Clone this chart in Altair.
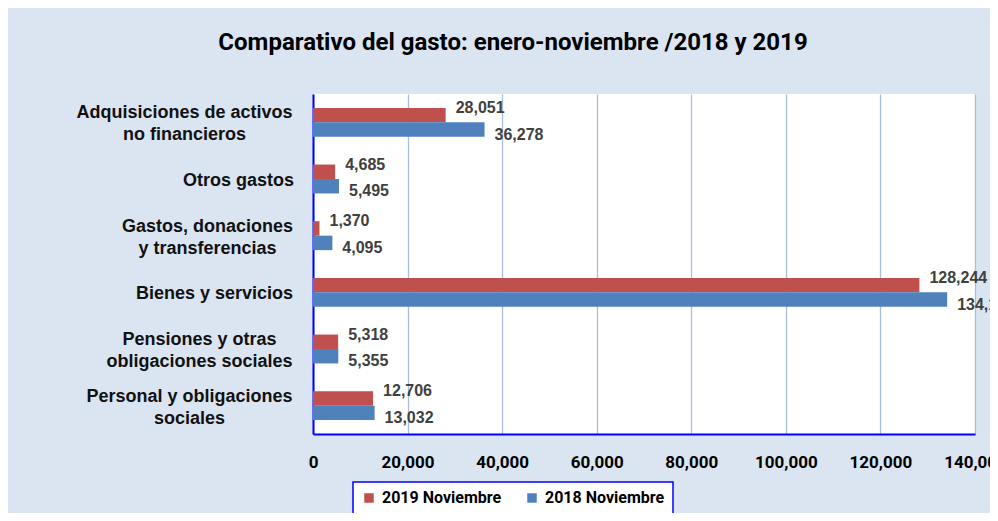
import altair as alt
import pandas as pd

categories = [
    "Adquisiciones de activos|no financieros",
    "Otros gastos",
    "Gastos, donaciones|y transferencias",
    "Bienes y servicios",
    "Pensiones y otras|obligaciones sociales",
    "Personal y obligaciones|sociales",
]
series = ["2019 Noviembre", "2018 Noviembre"]
values_2019 = [28051, 4685, 1370, 128244, 5318, 12706]
values_2018 = [36278, 5495, 4095, 134115, 5355, 13032]
x_ticks = [0, 20000, 40000, 60000, 80000, 100000, 120000, 140000]
colors = ["#C0504D", "#4F81BD"]

rows = []
for c, v in zip(categories, values_2019):
    rows.append({"cat": c, "serie": series[0], "valor": v})
for c, v in zip(categories, values_2018):
    rows.append({"cat": c, "serie": series[1], "valor": v})
df = pd.DataFrame(rows)

NARROW = "Liberation Sans Narrow, Roboto, sans-serif"
ARIAL = "Liberation Sans, Arial, sans-serif"

# per-label distance from axis to the centre of the (centre-aligned) label block
label_pad = [129, 75, 106, 99, 114, 124]
pad_cond = [
    {"test": f"datum.value === {c!r}", "value": p}
    for c, p in zip(categories, label_pad)
]

y_enc = alt.Y(
    "cat:N",
    sort=categories,
    scale=alt.Scale(paddingInner=0.49, paddingOuter=0.245),
    axis=alt.Axis(
        title=None,
        labelExpr="split(datum.label, '|')",
        labelFont=ARIAL,
        labelFontSize=18,
        labelFontWeight="bold",
        labelColor="#111111",
        labelAlign="center",
        labelBaseline="middle",
        labelLineHeight=22,
        labelPadding={"condition": pad_cond, "value": 100},
        labelOffset={
            "condition": {"test": "indexof(datum.value, '|') >= 0", "value": -9},
            "value": 2,
        },
        labelLimit=400,
        ticks=False,
        domainColor="#0000FF",
        domainWidth=2,
        grid=False,
    ),
)
x_enc = alt.X(
    "valor:Q",
    scale=alt.Scale(domain=[0, 140000], nice=False),
    axis=alt.Axis(
        title=None,
        values=x_ticks,
        format=",.0f",
        labelFont=NARROW,
        labelFontSize=17,
        labelFontWeight="bold",
        labelColor="#000000",
        labelPadding=20,
        labelFlush=False,
        ticks=False,
        domainColor="#0000FF",
        domainWidth=2,
        grid=True,
        gridColor="#A7BFDE",
        gridWidth=1.3,
    ),
)
yoff = alt.YOffset("serie:N", sort=series)

bars = alt.Chart(df).mark_bar().encode(
    x=x_enc,
    y=y_enc,
    yOffset=yoff,
    color=alt.Color(
        "serie:N",
        sort=series,
        scale=alt.Scale(domain=series, range=colors),
        legend=alt.Legend(
            title=None,
            orient="none",
            legendX=40,
            legendY=388,
            direction="horizontal",
            fillColor="white",
            strokeColor="#0000FF",
            padding=8,
            symbolType="square",
            symbolSize=90,
            symbolStrokeWidth=0,
            labelFont=NARROW,
            labelFontSize=16,
            labelFontWeight="bold",
            labelColor="#000000",
            columnPadding=22,
            labelOffset=5,
        ),
    ),
)

lbl_common = dict(
    align="left", baseline="middle", dx=10, font=ARIAL, fontSize=16,
    fontWeight="bold", color="#404040",
)
labels_2019 = alt.Chart(df).transform_filter(
    alt.datum.serie == series[0]
).mark_text(dy=-7, **lbl_common).encode(
    x="valor:Q", y=alt.Y("cat:N", sort=categories), yOffset=yoff,
    text=alt.Text("valor:Q", format=","),
)
labels_2018 = alt.Chart(df).transform_filter(
    alt.datum.serie == series[1]
).mark_text(dy=5, **lbl_common).encode(
    x="valor:Q", y=alt.Y("cat:N", sort=categories), yOffset=yoff,
    text=alt.Text("valor:Q", format=","),
)

chart = (
    alt.layer(bars, labels_2019, labels_2018)
    .properties(
        width=662,
        height=340,
        title=alt.TitleParams(
            "Comparativo del gasto: enero-noviembre /2018 y 2019",
            font=NARROW,
            fontSize=24,
            fontWeight="bold",
            color="#000000",
            anchor="middle",
            dx=-131,
            offset=39,
        ),
        autosize=alt.AutoSizeParams(type="none"),
        padding={"left": 305, "top": 86, "right": 15, "bottom": 79},
        background="#DBE5F1",
    )
    .configure_view(fill="white", stroke=None)
    .configure_legend(strokeWidth=1.5)
)

chart.save("out.html", embed_options={"renderer": "svg", "actions": False})
